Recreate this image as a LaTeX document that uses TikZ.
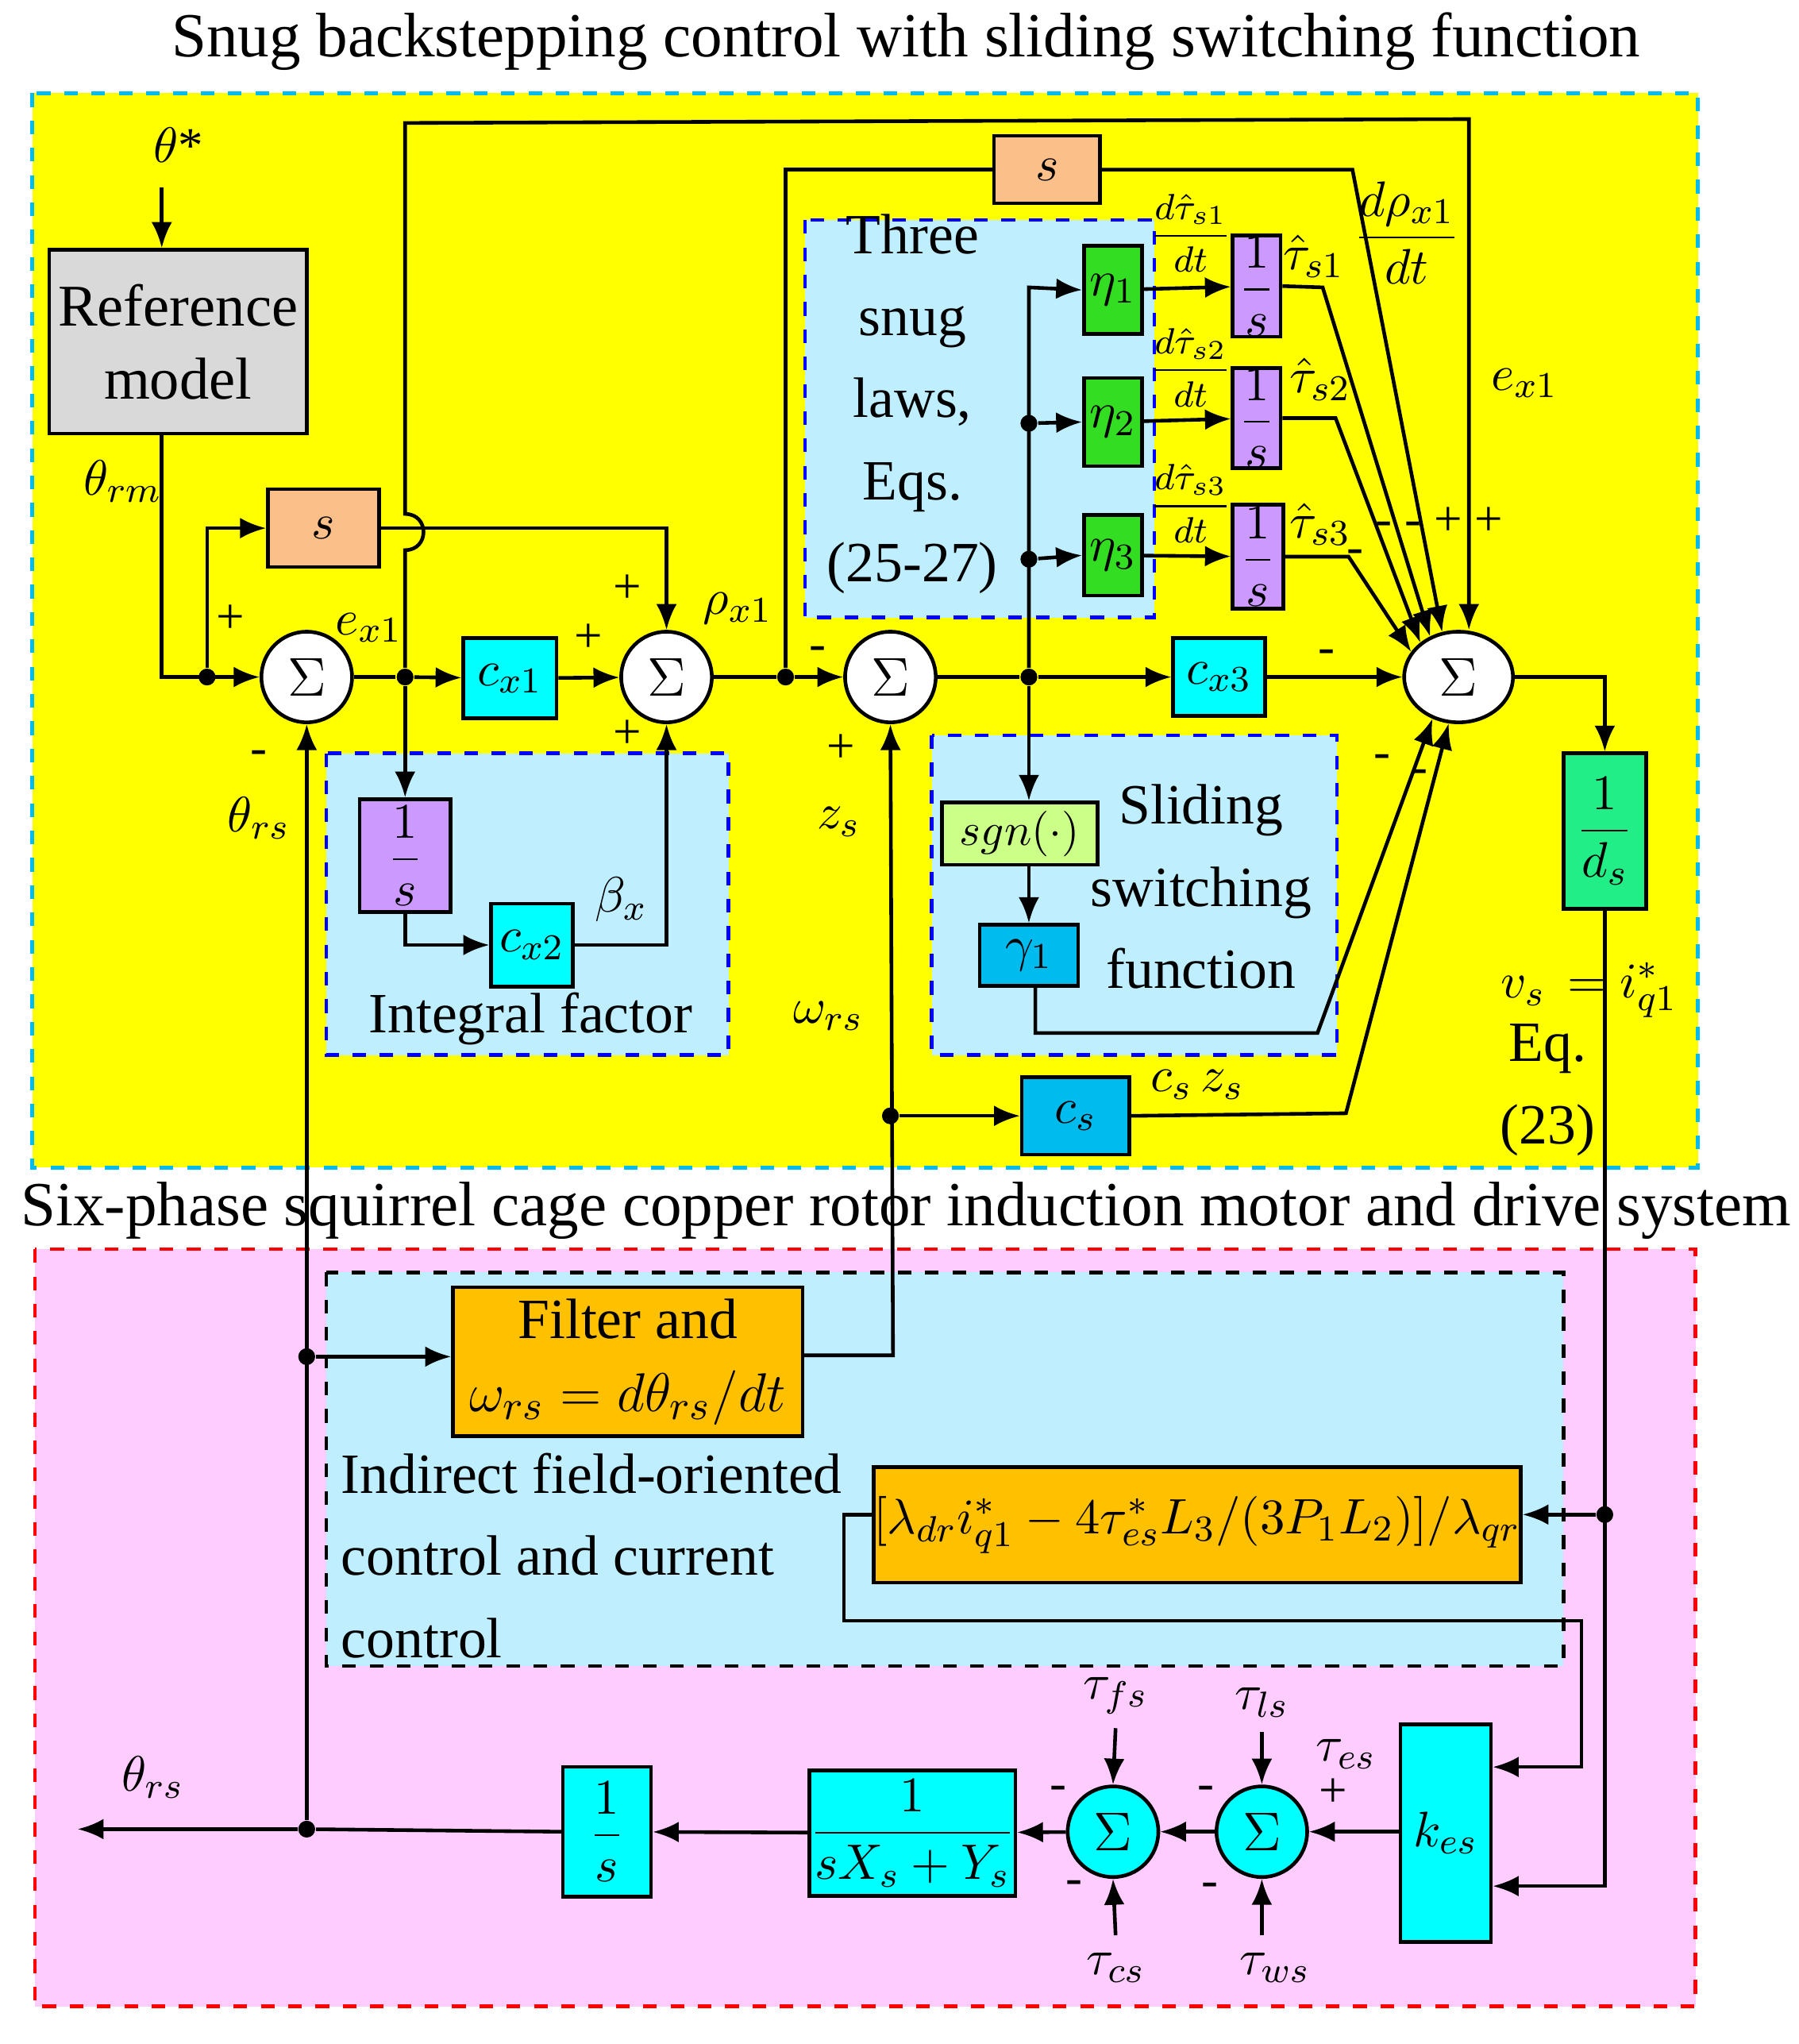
\documentclass[tikz,border=0pt]{standalone}
\usepackage{fontspec}
\setmainfont{Liberation Serif}
\usetikzlibrary{arrows.meta,shapes.geometric}
\newcommand{\dfr}[2]{{\displaystyle\frac{#1}{#2}}}
\definecolor{yel}{HTML}{FFFF00}
\definecolor{cy}{HTML}{00FFFF}
\definecolor{lb}{HTML}{BFEFFF}
\definecolor{org}{HTML}{FFC000}
\definecolor{pch}{HTML}{FBBF8A}
\definecolor{vio}{HTML}{CC99FF}
\definecolor{grn}{HTML}{33DD22}
\definecolor{grn2}{HTML}{22EE88}
\definecolor{lg}{HTML}{CCFF88}
\definecolor{blu}{HTML}{00BBEE}
\definecolor{gr}{HTML}{D9D9D9}
\definecolor{pnk}{HTML}{FFCCFF}
\begin{document}
\begin{tikzpicture}[x=0.01cm,y=-0.01cm,
  box/.style={draw,thick,inner sep=0pt,align=center,font=\fontsize{11}{12}\selectfont},
  sm/.style={draw,thick,fill=white,circle,minimum size=0.7cm,inner sep=0pt,font=\fontsize{13}{14}\selectfont},
  ar/.style={thick,-{Latex[length=2mm,width=1.6mm]}},
  ln/.style={thick},
  dot/.style={circle,fill,inner sep=0pt,minimum size=0.13cm},
  lab/.style={font=\fontsize{11}{12}\selectfont,inner sep=1pt},
  fr/.style={font=\fontsize{8.5}{9}\selectfont,inner sep=0pt},
  big/.style={font=\fontsize{12.5}{15}\selectfont,inner sep=0pt}]
\useasboundingbox (0,0) rectangle (1390,1579);
\fill[white] (0,0) rectangle (1390,1579);
% frames
\node[big,font=\fontsize{13.8}{15}\selectfont] (t1) at (700,32) {Snug backstepping control with sliding switching function};
\draw[fill=yel,draw=blu,thick,dashed] (25,72) rectangle (1312,902);
\node[big,font=\fontsize{13.8}{15}\selectfont] (t2) at (700,935) {Six-phase squirrel cage copper rotor induction motor and drive system};
\draw[fill=pnk,draw=red,thick,dashed] (27,965) rectangle (1310,1550);
% sub boxes
\draw[fill=lb,draw=blue,thick,dashed] (252,582) rectangle (563,815);
\draw[fill=lb,draw=blue,thick,dashed] (622,170) rectangle (892,477);
\draw[fill=lb,draw=blue,thick,dashed] (720,568) rectangle (1033,815);
\draw[fill=lb,draw=black,thick,dashed] (252,983) rectangle (1208,1287);
\node[big] (intf) at (410,787) {Integral factor};
\node[big,align=center] (tsl) at (705,312) {Three\\[3pt]snug\\[3pt]laws,\\[3pt]Eqs.\\[3pt](25-27)};
\node[big,align=center] (ssf) at (928,685) {Sliding\\[3pt]switching\\[3pt]function};
\node[big,align=left,anchor=north west] (ifo) at (263,1122) {Indirect field-oriented\\[3pt]control and current\\[3pt]control};
% top part
\node[lab] (ts) at (138,112) {$\theta$*};
\coordinate (tsb) at (125,145);
\node[box,fill=gr,minimum width=1.99cm,minimum height=1.42cm,font=\fontsize{13}{16}\selectfont] (ref) at (137.5,264) {Reference\\model};
\draw[ar] (tsb) -- (ref.north -| tsb);
\node[lab] at (95,372) {$\theta_{rm}$};
\node[sm] (s1) at (237,523) {$\Sigma$};
\node[sm] (s2) at (515,523) {$\Sigma$};
\node[sm] (s3) at (688,523) {$\Sigma$};
\node[sm,ellipse,minimum width=0.84cm,minimum height=0.7cm] (fs) at (1127,523) {$\Sigma$};
\node[box,fill=pch,minimum width=0.86cm,minimum height=0.6cm] (sa) at (250,408) {$s$};
\node[box,fill=pch,minimum width=0.82cm,minimum height=0.52cm] (sb) at (809,131) {$s$};
\node[box,fill=cy,minimum width=0.72cm,minimum height=0.62cm] (cx1) at (394,524) {$c_{x1}$};
\node[box,fill=vio,minimum width=0.7cm,minimum height=0.87cm] (is1) at (313,661) {$\dfr{1}{s}$};
\node[box,fill=cy,minimum width=0.63cm,minimum height=0.64cm] (cx2) at (411,730) {$c_{x2}$};
\node[box,fill=cy,minimum width=0.71cm,minimum height=0.6cm] (cx3) at (942,523) {$c_{x3}$};
\node[box,fill=grn,minimum width=0.45cm,minimum height=0.68cm] (e1) at (860,224) {$\eta_1$};
\node[box,fill=grn,minimum width=0.45cm,minimum height=0.68cm] (e2) at (860,326) {$\eta_2$};
\node[box,fill=grn,minimum width=0.45cm,minimum height=0.62cm] (e3) at (860,429) {$\eta_3$};
\node[box,fill=vio,minimum width=0.37cm,minimum height=0.78cm] (i1) at (971,221) {$\dfr{1}{s}$};
\node[box,fill=vio,minimum width=0.37cm,minimum height=0.77cm] (i2) at (971,323) {$\dfr{1}{s}$};
\node[box,fill=vio,minimum width=0.39cm,minimum height=0.8cm] (i3) at (972,430) {$\dfr{1}{s}$};
\node[box,fill=lg,minimum width=1.2cm,minimum height=0.48cm,font=\fontsize{10}{11}\selectfont] (sgn) at (788,644) {$sgn(\cdot)$};
\node[box,fill=blu,minimum width=0.76cm,minimum height=0.47cm] (g1) at (795,738) {$\gamma_1$};
\node[box,fill=blu,minimum width=0.83cm,minimum height=0.6cm] (cs) at (831,862) {$c_s$};
\node[box,fill=grn2,minimum width=0.64cm,minimum height=1.2cm] (ids) at (1240,642) {$\dfr{1}{d_s}$};
% dots
\node[dot] (d1) at (160,523) {};
\node[dot] (d2) at (313,523) {};
\node[dot] (d3) at (607,523) {};
\node[dot] (d4) at (795,523) {};
\node[dot] (d5) at (795,327) {};
\node[dot] (d6) at (795,432) {};
\node[dot] (d7) at (688,862) {};
\node[dot] (d8) at (1240,1170) {};
\node[dot] (d9) at (237,1048) {};
\node[dot] (d10) at (237,1413) {};
% connections top
\draw[ar] (ref.south -| 125,0) |- (s1.west);
\draw[ar] (d1) |- (sa.west);
\draw[ln] (s1) -- (d2); \draw[ar] (d2) -- (cx1);
\draw[ar] (d2) -- (is1.north);
\draw[ar] (is1.south) |- (cx2.west);
\draw[ar] (cx2.east) -| (s2.south);
\draw[ar] (cx1) -- (s2);
\draw[ar] (sa.east) -| (s2.north);
\draw[ar] (d2) -- (313,425) .. controls (332,425) and (332,397) .. (313,397) -- (313,95) -- (1135,92) -- (fs.north -| 1135,0);
\draw[ln] (s2) -- (d3); \draw[ar] (d3) -- (s3);
\draw[ln] (d3) |- (sb.west);
\draw[ar] (sb.east) -- (1045,131) -- (fs.110);
\draw[ln] (s3) -- (d4); \draw[ar] (d4) -- (cx3);
\draw[ar] (cx3) -- (fs.west);
\draw[ar] (d4) -- (795,222) -- (e1.west);
\draw[ar] (d5) -- (e2.west);
\draw[ar] (d6) -- (e3.west);
\draw[ar] (d4) -- (sgn.north -| d4);
\draw[ar] (sgn.south -| g1) -- (g1.north);
\draw[ar] (e1) -- (i1); \draw[ar] (e2) -- (i2); \draw[ar] (e3) -- (i3);
\draw[ar] (i1.east) -- (1022,222) -- (fs.125);
\draw[ar] (i2.east) -- (1032,323) -- (fs.138);
\draw[ar] (i3.east) -- (1042,430) -- (fs.152);
\draw[ar] (g1.south -| 800,0) -- (800,798) -- (1018,798) -- (fs.238);
\draw[ar] (cs.east) -- (1040,860) -- (fs.258);
\draw[ar] (d7) -- (cs.west);
\draw[ar] (fs.east) -- (1240,523) -- (ids.north);
% labels top
\node[lab] at (178,478) {+}; \node[lab] at (200,585) {-};
\node[lab] at (200,632) {$\theta_{rs}$};
\node[lab] at (285,485) {$e_{x1}$};
\node[lab] at (485,455) {+}; \node[lab] at (455,493) {+}; \node[lab] at (485,567) {+};
\node[lab] at (480,695) {$\beta_x$};
\node[lab] at (570,470) {$\rho_{x1}$};
\node[lab] at (632,505) {-}; \node[lab] at (650,578) {+};
\node[lab] at (648,635) {$z_s$};
\node[lab] at (640,785) {$\omega_{rs}$};
\node[lab] at (925,838) {$c_s\,z_s$};
\node[fr] at (920,180) {$\dfr{d\hat\tau_{s1}}{dt}$};
\node[fr] at (920,284) {$\dfr{d\hat\tau_{s2}}{dt}$};
\node[fr] at (920,389) {$\dfr{d\hat\tau_{s3}}{dt}$};
\node[lab] at (1015,198) {$\hat\tau_{s1}$};
\node[lab] at (1020,293) {$\hat\tau_{s2}$};
\node[lab] at (1020,405) {$\hat\tau_{s3}$};
\node[lab] at (1087,180) {$\dfr{d\rho_{x1}}{dt}$};
\node[lab] at (1178,296) {$e_{x1}$};
\node[lab] at (1112,403) {- - + +};
\node[lab] at (1047,430) {-}; \node[lab] at (1025,507) {-};
\node[lab] at (1068,588) {-}; \node[lab] at (1097,600) {-};
\node[lab] at (1228,765) {$v_s\,=i^*_{q1}$};
\node[big,align=center] at (1196,842) {Eq.\\[3pt](23)};
% bottom
\node[box,fill=org,minimum width=2.7cm,minimum height=1.15cm,font=\fontsize{12.5}{16}\selectfont] (flt) at (485,1052) {Filter and\\$\omega_{rs}=d\theta_{rs}/dt$};
\node[box,fill=org,minimum width=4.8cm,minimum height=0.89cm,font=\fontsize{11}{14}\selectfont] (ob) at (925,1178) {$[\lambda_{dr}i^*_{q1}-4\tau^*_{es}L_3/(3P_1L_2)]/\lambda_{qr}$};
\node[box,fill=cy,minimum width=0.7cm,minimum height=1.68cm] (kes) at (1117,1416) {$k_{es}$};
\node[sm,fill=cy] (s5) at (975,1415) {$\Sigma$};
\node[sm,fill=cy] (s4) at (860,1415) {$\Sigma$};
\node[box,fill=cy,minimum width=1.4cm,minimum height=0.97cm] (tf) at (705,1416) {$\dfr{1}{sX_s+Y_s}$};
\node[box,fill=cy,minimum width=0.68cm,minimum height=1.0cm] (is2) at (469,1415) {$\dfr{1}{s}$};
\coordinate (out) at (60,1413);
\node[lab] (tfs) at (862,1310) {$\tau_{fs}$};
\node[lab] (tcs) at (862,1520) {$\tau_{cs}$};
\node[lab] (tls) at (975,1315) {$\tau_{ls}$};
\node[lab] (tws) at (985,1520) {$\tau_{ws}$};
\node[lab] at (1040,1355) {$\tau_{es}$}; \node[lab] at (1030,1385) {+};
\node[lab] at (932,1385) {-}; \node[lab] at (935,1460) {-};
\node[lab] at (818,1385) {-}; \node[lab] at (830,1458) {-};
\node[lab] at (118,1373) {$\theta_{rs}$};
\draw[ar] (ids.south) -- (1240,1457) -- (kes.east |- 0,1457);
\draw[ar] (d8) -- (ob.east |- d8);
\draw[ar] (ob.west |- 0,1170) -- (652,1170) -- (652,1252) -- (1222,1252) -- (1222,1365) -- (kes.east |- 0,1365);
\draw[ar] (kes.west |- s5) -- (s5);
\draw[ar] (s5) -- (s4);
\draw[ar] (s4) -- (tf);
\draw[ar] (tf) -- (is2);
\draw[ln] (is2.west) -- (d10); \draw[ar] (d10) -- (out);
\draw[ar] (d10) -- (s1.south);
\draw[ar] (d9) -- (flt.west |- d9);
\draw[ar] (flt.east |- 0,1047) -- (690,1047) -- (s3.south);
\draw[ar] (862,1335) -- (s4.north); \draw[ar] (862,1495) -- (s4.south);
\draw[ar] (975,1338) -- (s5.north); \draw[ar] (975,1495) -- (s5.south);
\end{tikzpicture}
\end{document}
